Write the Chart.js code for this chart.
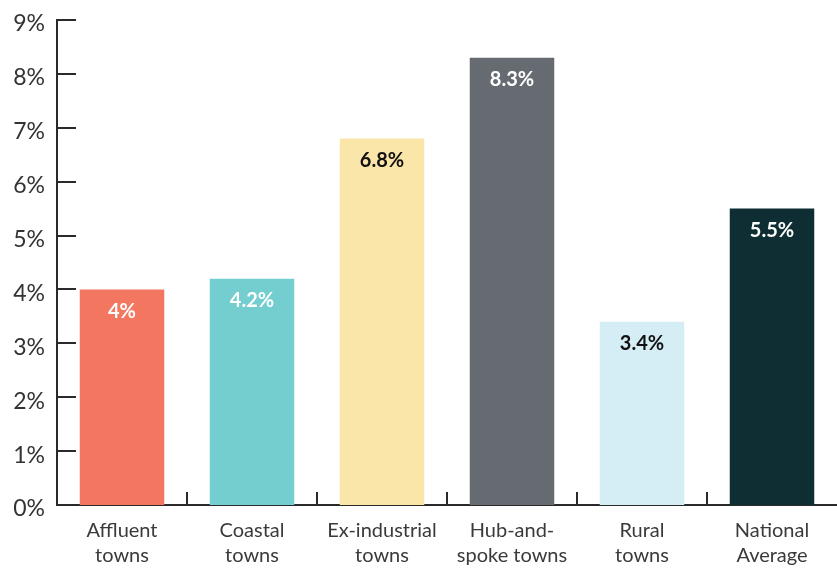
<!DOCTYPE html>
<html>
<head>
<meta charset="utf-8">
<script src="https://cdn.jsdelivr.net/npm/chart.js@4/dist/chart.umd.min.js"></script>
<style>
html,body{margin:0;padding:0;background:#fff;}
#wrap{width:837px;height:568px;position:relative;}
</style>
</head>
<body>
<div id="wrap"><canvas id="c" width="837" height="568"></canvas></div>
<script>
const categories = [["Affluent","towns"],["Coastal","towns"],["Ex-industrial","towns"],["Hub-and-","spoke towns"],["Rural","towns"],["National","Average"]];
const values = [4, 4.2, 6.8, 8.3, 3.4, 5.5];
const valueLabels = ["4%","4.2%","6.8%","8.3%","3.4%","5.5%"];
const barColors = ["#F27660","#74CDCE","#FBE6AA","#666B72","#D5EDF4","#0F2E33"];
const labelColors = ["#ffffff","#ffffff","#111111","#ffffff","#111111","#ffffff"];
const yTicks = [0,1,2,3,4,5,6,7,8,9];

const FONT = "Lato, 'Open Sans', sans-serif";
const AXIS = "#2a2a2a";

const innerTicks = {
  id: 'innerTicks',
  afterDatasetsDraw(chart) {
    const ctx = chart.ctx, x = chart.scales.x, y = chart.scales.y;
    const ca = chart.chartArea;
    ctx.save();
    ctx.strokeStyle = AXIS;
    ctx.lineWidth = 2;
    yTicks.forEach(v => {
      if (v === 0) return;
      const py = Math.round(y.getPixelForValue(v));
      ctx.beginPath(); ctx.moveTo(ca.left, py); ctx.lineTo(ca.left + 19, py); ctx.stroke();
    });
    const half = (x.getPixelForValue(1) - x.getPixelForValue(0)) / 2;
    for (let i = 0; i < categories.length - 1; i++) {
      const px = Math.round(x.getPixelForValue(i) + half);
      ctx.beginPath(); ctx.moveTo(px, ca.bottom); ctx.lineTo(px, ca.bottom - 13); ctx.stroke();
    }
    const meta = chart.getDatasetMeta(0);
    ctx.font = "bold 20px " + FONT;
    ctx.textAlign = 'center';
    ctx.textBaseline = 'middle';
    meta.data.forEach((bar, i) => {
      ctx.fillStyle = labelColors[i];
      ctx.fillText(valueLabels[i], bar.x, bar.y + 22);
    });
    ctx.restore();
  }
};

new Chart(document.getElementById('c'), {
  type: 'bar',
  data: {
    labels: categories,
    datasets: [{
      data: values,
      backgroundColor: barColors,
      borderWidth: 0,
      categoryPercentage: 1,
      barPercentage: 0.65
    }]
  },
  options: {
    responsive: false,
    animation: false,
    devicePixelRatio: 1,
    layout: { padding: { top: 20, right: 0, left: 0, bottom: 0 } },
    plugins: { legend: { display: false }, tooltip: { enabled: false } },
    scales: {
      x: {
        grid: { display: false, drawTicks: false },
        border: { display: true, color: AXIS, width: 2 },
        ticks: { color: '#3a3a3a', font: { family: FONT, size: 20, lineHeight: 1.25 }, padding: 13, maxRotation: 0, autoSkip: false },
        afterFit(s) { s.height = 63; s.paddingLeft = 0; s.paddingRight = 0; }
      },
      y: {
        min: 0, max: 9,
        grid: { display: false, drawTicks: false },
        border: { display: true, color: AXIS, width: 2 },
        ticks: { stepSize: 1, color: '#333', font: { family: FONT, size: 23 }, padding: 12, labelOffset: 4, callback: v => v + '%' },
        afterFit(s) { s.width = 57; s.paddingTop = 0; s.paddingBottom = 0; }
      }
    }
  },
  plugins: [innerTicks]
});
</script>
</body>
</html>
